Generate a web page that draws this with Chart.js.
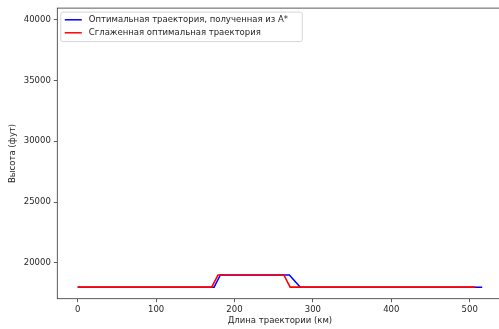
<!DOCTYPE html>
<html lang="ru">
<head>
  <meta charset="UTF-8">
  <title>Траектория</title>
  <script src="https://cdn.jsdelivr.net/npm/chart.js"></script>
  <style>
    html, body {
      margin: 0;
      padding: 0;
      background: #ffffff;
      overflow: hidden;
    }
    #wrap {
      width: 504px;
      height: 329px;
    }
  </style>
</head>
<body>
  <div id="wrap">
    <canvas id="trajChart" width="504" height="329"></canvas>
  </div>

  <script>
    // data (km, ft)
    const optimalDist = [0, 174, 182, 270, 284, 516];
    const optimalAlt = [18000, 18000, 19000, 19000, 18000, 18000];
    const smoothDist = [0, 171, 179, 263, 271, 507];
    const smoothAlt = [18000, 18000, 19000, 19000, 18000, 18000];

    const xTicks = [0, 100, 200, 300, 400, 500];
    const yTicks = [20000, 25000, 30000, 35000, 40000];

    const seriesLabels = ['Оптимальная траектория, полученная из A*', 'Сглаженная оптимальная траектория'];
    const seriesColors = ['#0000ff', '#ff0000'];

    const font = { family: 'DejaVu Sans', size: 8.5 };
    const textColor = '#262626';

    function toPoints(xs, ys) {
      return xs.map((x, i) => ({ x: x, y: ys[i] }));
    }

    // axes box + legend like matplotlib
    const framePlugin = {
      id: 'frame',
      afterDraw(chart) {
        const ctx = chart.ctx;
        const a = chart.chartArea;
        ctx.save();
        ctx.strokeStyle = '#333333';
        ctx.lineWidth = 0.8;
        ctx.strokeRect(a.left, a.top, a.right - a.left, a.bottom - a.top);

        // legend box
        const bx = a.left + 3.5, by = a.top + 4, bw = 241.5, bh = 29.5;
        ctx.fillStyle = 'rgba(255,255,255,0.8)';
        ctx.strokeStyle = '#d6d6d6';
        ctx.lineWidth = 1;
        ctx.beginPath();
        ctx.roundRect(bx, by, bw, bh, 2);
        ctx.fill();
        ctx.stroke();

        ctx.font = '8.5px "DejaVu Sans"';
        ctx.textBaseline = 'middle';
        seriesLabels.forEach((label, i) => {
          const yy = by + 7.7 + i * 13;
          ctx.strokeStyle = seriesColors[i];
          ctx.lineWidth = 1.5;
          ctx.beginPath();
          ctx.moveTo(bx + 4, yy);
          ctx.lineTo(bx + 21, yy);
          ctx.stroke();
          ctx.fillStyle = textColor;
          ctx.fillText(label, bx + 28, yy);
        });
        ctx.restore();
      }
    };

    new Chart(document.getElementById('trajChart'), {
      type: 'line',
      data: {
        datasets: [
          {
            label: seriesLabels[1],
            data: toPoints(smoothDist, smoothAlt),
            borderColor: seriesColors[1],
            borderWidth: 1.6,
            pointRadius: 0,
            tension: 0
          },
          {
            label: seriesLabels[0],
            data: toPoints(optimalDist, optimalAlt),
            borderColor: seriesColors[0],
            borderWidth: 1.5,
            pointRadius: 0,
            tension: 0
          }
        ]
      },
      options: {
        responsive: false,
        animation: false,
        layout: { padding: { top: 8, right: 1.4, left: 0, bottom: 0 } },
        plugins: {
          legend: { display: false },
          tooltip: { enabled: false }
        },
        scales: {
          x: {
            type: 'linear',
            min: -26,
            max: 542,
            afterBuildTicks(axis) { axis.ticks = xTicks.map(v => ({ value: v })); },
            afterFit(axis) { axis.height = 30.3; },
            ticks: { color: textColor, font: font, padding: 2, maxRotation: 0, callback: v => String(v) },
            grid: { drawOnChartArea: false, tickLength: 3.5, color: '#333333', tickWidth: 0.8 },
            border: { display: false },
            title: {
              display: true,
              text: 'Длина траектории (км)',
              color: textColor,
              font: font,
              padding: { top: 1, bottom: 3 }
            }
          },
          y: {
            min: 17050,
            max: 40950,
            afterBuildTicks(axis) { axis.ticks = yTicks.map(v => ({ value: v })); },
            afterFit(axis) { axis.width = 57.3; },
            ticks: { color: textColor, font: font, padding: 3, callback: v => String(v) },
            grid: { drawOnChartArea: false, tickLength: 3.5, color: '#333333', tickWidth: 0.8 },
            border: { display: false },
            title: {
              display: true,
              text: 'Высота (фут)',
              color: textColor,
              font: font,
              padding: { top: 8, bottom: 0 }
            }
          }
        }
      },
      plugins: [framePlugin]
    });
  </script>
</body>
</html>
